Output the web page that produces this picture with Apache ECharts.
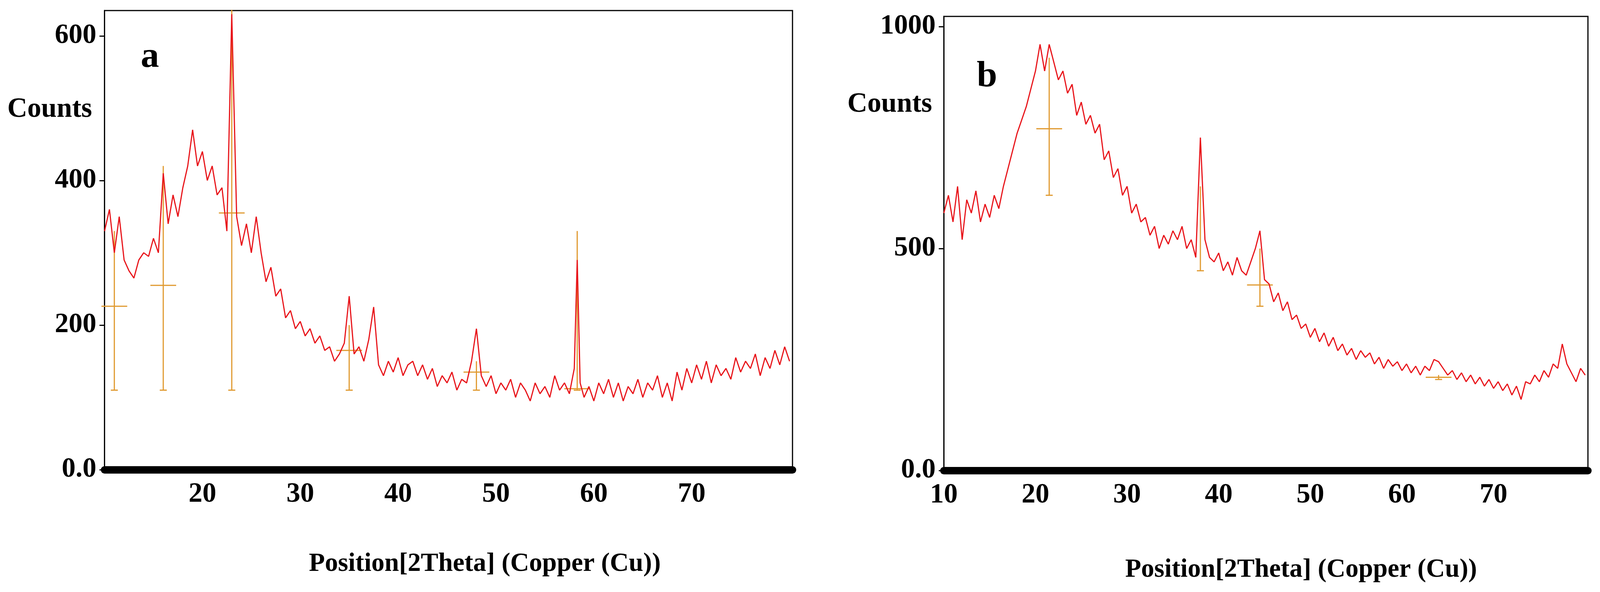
<!DOCTYPE html>
<html><head><meta charset="utf-8">
<script src="https://cdn.jsdelivr.net/npm/echarts@6/dist/echarts.min.js"></script>
<style>html,body{margin:0;padding:0;background:#fff;overflow:hidden}#c{width:100vw;height:100vh}</style>
</head><body><div id="c"></div>
<script>
const aCounts = [[10,330],[10.5,360],[11,300],[11.5,350],[12,290],[12.5,275],[13,265],[13.5,290],[14,300],[14.5,295],[15,320],[15.5,300],[16,410],[16.5,340],[17,380],[17.5,350],[18,390],[18.5,420],[19,470],[19.5,420],[20,440],[20.5,400],[21,420],[21.5,380],[22,390],[22.5,330],[23,630],[23.5,350],[24,310],[24.5,340],[25,300],[25.5,350],[26,300],[26.5,260],[27,280],[27.5,240],[28,250],[28.5,210],[29,220],[29.5,195],[30,205],[30.5,185],[31,195],[31.5,175],[32,185],[32.5,165],[33,170],[33.5,150],[34,160],[34.5,175],[35,240],[35.5,160],[36,170],[36.5,150],[37,180],[37.5,225],[38,145],[38.5,130],[39,150],[39.5,135],[40,155],[40.5,130],[41,145],[41.5,150],[42,130],[42.5,145],[43,125],[43.5,140],[44,115],[44.5,130],[45,120],[45.5,135],[46,110],[46.5,125],[47,120],[47.5,150],[48,195],[48.5,130],[49,115],[49.5,130],[50,105],[50.5,120],[51,110],[51.5,125],[52,100],[52.5,120],[53,110],[53.5,95],[54,120],[54.5,105],[55,115],[55.5,100],[56,130],[56.5,110],[57,120],[57.5,105],[58,140],[58.3,290],[58.6,120],[59,100],[59.5,115],[60,95],[60.5,120],[61,105],[61.5,125],[62,100],[62.5,120],[63,95],[63.5,115],[64,105],[64.5,125],[65,100],[65.5,120],[66,110],[66.5,130],[67,100],[67.5,120],[68,95],[68.5,135],[69,110],[69.5,140],[70,120],[70.5,145],[71,125],[71.5,150],[72,120],[72.5,145],[73,130],[73.5,140],[74,125],[74.5,155],[75,135],[75.5,150],[76,140],[76.5,160],[77,130],[77.5,155],[78,140],[78.5,165],[79,145],[79.5,170],[80,150]];
const bCounts = [[10,580],[10.5,620],[11,560],[11.5,640],[12,520],[12.5,610],[13,580],[13.5,630],[14,560],[14.5,600],[15,570],[15.5,620],[16,590],[16.5,640],[17,680],[17.5,720],[18,760],[18.5,790],[19,820],[19.5,860],[20,900],[20.5,960],[21,900],[21.5,960],[22,920],[22.5,880],[23,900],[23.5,850],[24,870],[24.5,800],[25,830],[25.5,780],[26,800],[26.5,760],[27,780],[27.5,700],[28,720],[28.5,660],[29,680],[29.5,620],[30,640],[30.5,580],[31,600],[31.5,560],[32,570],[32.5,530],[33,550],[33.5,500],[34,530],[34.5,510],[35,540],[35.5,520],[36,550],[36.5,500],[37,520],[37.5,480],[38,750],[38.5,520],[39,480],[39.5,470],[40,490],[40.5,450],[41,470],[41.5,440],[42,480],[42.5,450],[43,440],[43.5,470],[44,500],[44.5,540],[45,430],[45.5,420],[46,380],[46.5,400],[47,360],[47.5,380],[48,340],[48.5,350],[49,320],[49.5,330],[50,300],[50.5,320],[51,290],[51.5,310],[52,280],[52.5,300],[53,270],[53.5,285],[54,260],[54.5,275],[55,250],[55.5,270],[56,255],[56.5,265],[57,240],[57.5,255],[58,230],[58.5,250],[59,235],[59.5,245],[60,225],[60.5,240],[61,220],[61.5,235],[62,215],[62.5,235],[63,225],[63.5,250],[64,245],[64.5,230],[65,215],[65.5,225],[66,205],[66.5,220],[67,200],[67.5,215],[68,195],[68.5,210],[69,190],[69.5,205],[70,185],[70.5,200],[71,180],[71.5,195],[72,170],[72.5,190],[73,160],[73.5,200],[74,195],[74.5,215],[75,200],[75.5,225],[76,210],[76.5,240],[77,230],[77.5,285],[78,240],[78.5,220],[79,200],[79.5,230],[80,215]];
// reference sticks: [angle, low, high, cross]
const aSticks = [[11,110,330,226],[16,110,420,255],[23,110,636,355],[35,110,200,165],[48,110,150,135],[58.3,110,330,112]];
const bSticks = [[21.5,620,930,770],[38,450,640,null],[44.5,370,500,418],[64,205,215,210]];

const el = document.getElementById('c');
const W = el.clientWidth, H = el.clientHeight;
const sx = W/4377, sy = H/1515, s = Math.min(sx, sy);
const X = v=>v*sx, Y = v=>v*sy, S = v=>Math.round(v*s);
const F = '"Liberation Serif", "DejaVu Serif", serif';
const lab = {fontFamily:F, fontWeight:'bold', fontSize:S(76), color:'#000'};
function xAxis(idx, hide10){
  return {type:'value', gridIndex:idx, min:10, max:80.3, interval:10,
    axisLine:{onZero:false, lineStyle:{color:'#000', width:S(20)}},
    axisTick:{show:true, length:S(10), lineStyle:{color:'#000', width:3}},
    splitLine:{show:false},
    axisLabel:Object.assign({margin:S(30), formatter:v=>(v>=80||(hide10&&v===10))?'':String(v)}, lab)};
}
function yAxis(idx, max, interval){
  return {type:'value', gridIndex:idx, min:0, max:max, interval:interval,
    axisLine:{show:true, lineStyle:{color:'#000', width:3}},
    axisTick:{show:true, length:S(14), lineStyle:{color:'#000', width:3}},
    splitLine:{show:false},
    axisLabel:Object.assign({margin:S(22), showMaxLabel:false, formatter:v=>v===0?'0.0':String(v)}, lab)};
}
function sticks(idx, data){
  return {type:'custom', xAxisIndex:idx, yAxisIndex:idx, data:data, z:1,
    renderItem:(p, api)=>{
      const x=api.value(0), lo=api.coord([x,api.value(1)]), hi=api.coord([x,api.value(2)]);
      const st={stroke:'#e09a30', lineWidth:3};
      const ch=[{type:'line', shape:{x1:lo[0],y1:lo[1],x2:hi[0],y2:hi[1]}, style:st},
                {type:'line', shape:{x1:lo[0]-S(10),y1:lo[1],x2:lo[0]+S(10),y2:lo[1]}, style:st}];
      const c=api.value(3);
      if(c!=null && !isNaN(c)){const cc=api.coord([x,c]); ch.push({type:'line', shape:{x1:cc[0]-S(35),y1:cc[1],x2:cc[0]+S(35),y2:cc[1]}, style:st});}
      return {type:'group', children:ch};
    }};
}
const chart = echarts.init(el);
chart.setOption({
  animation:false, backgroundColor:'#fff',
  grid:[{left:X(286), top:Y(27), width:X(1882), height:Y(1175), show:true, borderColor:'#000', borderWidth:3},
        {left:X(2582), top:Y(42), width:X(1762), height:Y(1162), show:true, borderColor:'#000', borderWidth:3}],
  xAxis:[xAxis(0,true), xAxis(1,false)],
  yAxis:[yAxis(0,635,200), yAxis(1,1023,500)],
  series:[
    sticks(0,aSticks), sticks(1,bSticks),
    {type:'line', xAxisIndex:0, yAxisIndex:0, data:aCounts, showSymbol:false, z:2, lineStyle:{color:'#e8141a', width:3}},
    {type:'line', xAxisIndex:1, yAxisIndex:1, data:bCounts, showSymbol:false, z:2, lineStyle:{color:'#e8141a', width:3}}
  ],
  graphic:[
    {type:'text', left:X(20), top:Y(245), style:{text:'Counts', font:'bold '+S(76)+'px '+F, fill:'#000'}},
    {type:'text', left:X(2318), top:Y(232), style:{text:'Counts', font:'bold '+S(76)+'px '+F, fill:'#000'}},
    {type:'text', left:X(385), top:Y(100), style:{text:'a', font:'bold '+S(100)+'px '+F, fill:'#000'}},
    {type:'text', left:X(2672), top:Y(150), style:{text:'b', font:'bold '+S(100)+'px '+F, fill:'#000'}},
    {type:'text', left:X(845), top:Y(1410), style:{text:'Position[2Theta] (Copper (Cu))', font:'bold '+S(72)+'px '+F, fill:'#000'}},
    {type:'text', left:X(3078), top:Y(1425), style:{text:'Position[2Theta] (Copper (Cu))', font:'bold '+S(72)+'px '+F, fill:'#000'}}
  ]
});
</script></body></html>
